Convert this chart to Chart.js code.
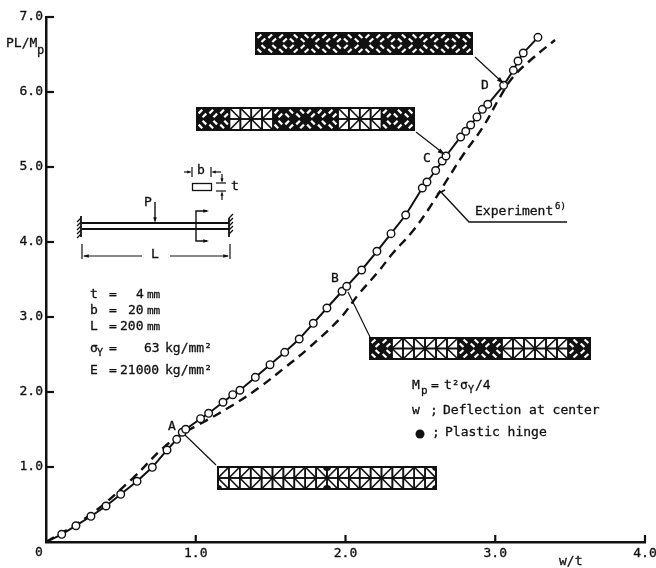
<!DOCTYPE html>
<html>
<head>
<meta charset="utf-8">
<script src="https://cdn.jsdelivr.net/npm/chart.js@4"></script>
<style>
  body { margin: 0; background: #fff; }
  canvas { display: block; }
</style>
</head>
<body>
<canvas id="beamChart" width="656" height="568"></canvas>
<script>
// Values
const calcX = [0, 0.105, 0.2, 0.3, 0.401, 0.499, 0.608, 0.71, 0.808, 0.873, 0.91, 0.933, 1.032, 1.086, 1.182, 1.247, 1.295, 1.398, 1.496, 1.594, 1.691, 1.785, 1.876, 1.977, 2.008, 2.108, 2.21, 2.304, 2.402, 2.513, 2.544, 2.602, 2.646, 2.671, 2.769, 2.803, 2.836, 2.878, 2.914, 2.95, 3.056, 3.121, 3.152, 3.187, 3.285];
const calcY = [0, 0.103, 0.217, 0.343, 0.48, 0.636, 0.809, 0.996, 1.227, 1.369, 1.463, 1.503, 1.644, 1.716, 1.863, 1.964, 2.023, 2.196, 2.364, 2.529, 2.707, 2.916, 3.12, 3.343, 3.409, 3.627, 3.876, 4.111, 4.36, 4.72, 4.8, 4.953, 5.08, 5.147, 5.4, 5.476, 5.56, 5.667, 5.769, 5.836, 6.089, 6.289, 6.413, 6.52, 6.729];
const expX = [0, 0.294, 0.581, 0.781, 0.928, 1.028, 1.249, 1.429, 1.583, 1.743, 1.963, 2.083, 2.217, 2.317, 2.444, 2.551, 2.678, 2.785, 2.918, 3.032, 3.119, 3.252, 3.399];
const expY = [0, 0.36, 0.853, 1.253, 1.467, 1.573, 1.827, 2.067, 2.307, 2.567, 2.98, 3.293, 3.6, 3.853, 4.133, 4.427, 4.827, 5.16, 5.533, 5.933, 6.2, 6.453, 6.693];
const xTickLabels = ["", "1.0", "2.0", "3.0", "4.0"];
const yTickLabels = ["", "1.0", "2.0", "3.0", "4.0", "5.0", "6.0", "7.0"];

const FONT = '"DejaVu Sans Mono", monospace';
const INK = "#111";

function toPoints(xs, ys) {
  return xs.map((x, i) => ({ x: x, y: ys[i] }));
}

function text(ctx, str, x, y, size) {
  ctx.font = (size || 13) + "px " + FONT;
  ctx.textAlign = "left";
  ctx.textBaseline = "middle";
  ctx.fillStyle = INK;
  ctx.strokeStyle = INK;
  ctx.lineWidth = 0.3;
  ctx.fillText(str, x, y);
  ctx.strokeText(str, x, y);
}

function line(ctx, pts, width) {
  ctx.lineWidth = width || 1.2;
  ctx.strokeStyle = INK;
  ctx.beginPath();
  pts.forEach((p, i) => (i ? ctx.lineTo(p[0], p[1]) : ctx.moveTo(p[0], p[1])));
  ctx.stroke();
}

function arrowHead(ctx, x, y, ang, len) {
  ctx.fillStyle = INK;
  ctx.beginPath();
  ctx.moveTo(x, y);
  ctx.lineTo(x - len * Math.cos(ang - 0.3), y - len * Math.sin(ang - 0.3));
  ctx.lineTo(x - len * Math.cos(ang + 0.3), y - len * Math.sin(ang + 0.3));
  ctx.closePath();
  ctx.fill();
}

// Truss mesh inset, spans are [from, to] columns drawn as plastic zones
function mesh(ctx, x0, y0, w, h, spans, dots) {
  const cols = 20;
  const cw = w / cols;
  const rh = h / 2;
  const isBlack = (c) => spans.some((s) => c >= s[0] && c < s[1]);
  ctx.save();
  ctx.beginPath();
  ctx.rect(x0, y0, w, h);
  ctx.clip();
  ctx.fillStyle = "#fff";
  ctx.fillRect(x0, y0, w, h);
  ctx.lineCap = "butt";
  for (let c = 0; c < cols; c++) {
    const l = x0 + c * cw;
    const r = l + cw;
    const toRight = (c % 5) >= 2.5;
    for (let row = 0; row < 2; row++) {
      const t = y0 + row * rh;
      const b = t + rh;
      // diagonal of this cell always runs towards the mid height node
      const falling = toRight ? row === 0 : row === 1;
      const dx1 = l, dy1 = falling ? t : b, dx2 = r, dy2 = falling ? b : t;
      if (isBlack(c)) {
        ctx.fillStyle = INK;
        ctx.fillRect(l - 0.5, t - 0.5, cw + 1, rh + 1);
        // what is left of each triangle is a short white slash
        const mx = (dx1 + dx2) / 2, my = (dy1 + dy2) / 2;
        const ux = (dx2 - dx1) / Math.hypot(dx2 - dx1, dy2 - dy1);
        const uy = (dy2 - dy1) / Math.hypot(dx2 - dx1, dy2 - dy1);
        ctx.strokeStyle = "#fff";
        ctx.lineWidth = 2.2;
        [-1, 1].forEach((side) => {
          const cx = mx - uy * side * 2.8, cy = my + ux * side * 2.8;
          ctx.beginPath();
          ctx.moveTo(cx - ux * 2.6, cy - uy * 2.6);
          ctx.lineTo(cx + ux * 2.6, cy + uy * 2.6);
          ctx.stroke();
        });
      } else {
        ctx.strokeStyle = INK;
        ctx.lineWidth = 1.6;
        ctx.strokeRect(l, t, cw, rh);
        ctx.beginPath();
        ctx.moveTo(dx1, dy1);
        ctx.lineTo(dx2, dy2);
        ctx.stroke();
      }
    }
  }
  ctx.fillStyle = INK;
  for (let c = 0; c <= cols; c += 5) {
    if (isBlack(Math.min(c, cols - 1)) && isBlack(Math.max(c - 1, 0))) {
      ctx.beginPath();
      ctx.arc(x0 + c * cw, y0 + h / 2, 4.2, 0, Math.PI * 2);
      ctx.fill();
    }
  }
  (dots || []).forEach((d) => {
    ctx.beginPath();
    ctx.arc(x0 + d[0] * cw, y0 + d[1] * h, 4, 0, Math.PI * 2);
    ctx.fill();
  });
  ctx.restore();
  ctx.lineWidth = 2;
  ctx.strokeStyle = INK;
  ctx.strokeRect(x0, y0, w, h);
}

const annotations = {
  id: "annotations",
  afterDraw(chart) {
    const ctx = chart.ctx;
    const xs = chart.scales.x;
    const ys = chart.scales.y;
    ctx.save();

    // inward tick marks
    xs.ticks.forEach((t) => {
      if (t.value === 0) return;
      const px = xs.getPixelForValue(t.value);
      line(ctx, [[px, ys.bottom], [px, ys.bottom - 7]], 2.2);
    });
    ys.ticks.forEach((t) => {
      if (t.value === 0) return;
      const py = ys.getPixelForValue(t.value);
      line(ctx, [[xs.left, py], [xs.left + 8, py]], 2.2);
    });

    // axis captions
    text(ctx, "0", 35, 553, 13);
    text(ctx, "w/t", 559, 562, 13);
    text(ctx, "PL/M", 6, 44, 13);
    text(ctx, "p", 37, 51, 12);

    // stage letters
    text(ctx, "A", 168, 427);
    text(ctx, "B", 331, 279);
    text(ctx, "C", 423, 159);
    text(ctx, "D", 481, 86);

    // leader lines
    line(ctx, [[185, 435], [216, 465]]);
    line(ctx, [[348, 292], [370, 337]]);
    line(ctx, [[416, 132], [443, 153]]);
    arrowHead(ctx, 445, 155, Math.atan2(21, 27), 8);
    line(ctx, [[475, 57], [502, 82]]);
    arrowHead(ctx, 504, 84, Math.atan2(25, 27), 8);
    line(ctx, [[441, 192], [469, 222], [567, 222]], 1.4);
    line(ctx, [[437, 194], [445, 190]], 1.6);
    text(ctx, "Experiment", 475, 212);
    text(ctx, "6)", 555, 207, 9);

    // mesh insets
    mesh(ctx, 218, 467, 218, 22, [], [[0, 1], [10, 0], [10, 1], [20, 1], [20, 0]]);
    mesh(ctx, 370, 338, 220, 21, [[0, 2], [8, 12], [18, 20]]);
    mesh(ctx, 197, 108, 217, 22, [[0, 3], [7, 13], [17, 20]]);
    mesh(ctx, 256, 33, 216, 21, [[0, 20]]);

    // beam sketch
    line(ctx, [[82, 223], [229, 223]], 1.8);
    line(ctx, [[82, 229], [229, 229]], 1.8);
    line(ctx, [[81, 216], [81, 237]], 1.8);
    line(ctx, [[229, 218], [229, 237]], 1.8);
    for (let i = 0; i < 5; i++) {
      line(ctx, [[81, 218 + i * 4], [77, 222 + i * 4]], 1.2);
      line(ctx, [[229, 218 + i * 4], [233, 214 + i * 4]], 1.2);
    }
    line(ctx, [[155, 202], [155, 219]], 1.4);
    arrowHead(ctx, 155, 223, Math.PI / 2, 6);
    text(ctx, "P", 144, 203);
    line(ctx, [[207, 211], [196, 211], [196, 241], [207, 241]], 1.4);
    arrowHead(ctx, 209, 211, 0, 6);
    arrowHead(ctx, 209, 241, 0, 6);
    line(ctx, [[82, 244], [82, 259]], 1.2);
    line(ctx, [[230, 244], [230, 259]], 1.2);
    line(ctx, [[84, 256], [142, 256]], 1.2);
    line(ctx, [[170, 256], [228, 256]], 1.2);
    arrowHead(ctx, 83, 256, Math.PI, 6);
    arrowHead(ctx, 229, 256, 0, 6);
    text(ctx, "L", 151, 255);

    // cross section sketch
    ctx.lineWidth = 1.3;
    ctx.strokeStyle = INK;
    ctx.strokeRect(192.5, 183.5, 19, 7);
    text(ctx, "b", 197, 171);
    line(ctx, [[192, 167], [192, 177]], 1.2);
    line(ctx, [[211, 167], [211, 177]], 1.2);
    line(ctx, [[184, 172], [189, 172]], 1.2);
    arrowHead(ctx, 192, 172, 0, 5);
    line(ctx, [[214, 172], [221, 172]], 1.2);
    arrowHead(ctx, 211, 172, Math.PI, 5);
    line(ctx, [[216, 183], [226, 183]], 1.2);
    line(ctx, [[216, 191], [226, 191]], 1.2);
    line(ctx, [[222, 174], [222, 181]], 1.2);
    arrowHead(ctx, 222, 183, Math.PI / 2, 5);
    line(ctx, [[222, 194], [222, 200]], 1.2);
    arrowHead(ctx, 222, 191, -Math.PI / 2, 5);
    text(ctx, "t", 231, 187);

    // material properties
    text(ctx, "t", 90, 295);
    text(ctx, "=", 109, 295);
    text(ctx, "4", 136, 295);
    text(ctx, "mm", 147, 295, 11);
    text(ctx, "b", 90, 311);
    text(ctx, "=", 109, 311);
    text(ctx, "20", 128, 311);
    text(ctx, "mm", 147, 311, 11);
    text(ctx, "L", 90, 327);
    text(ctx, "=", 109, 327);
    text(ctx, "200", 120, 327);
    text(ctx, "mm", 147, 327, 11);
    text(ctx, "σ", 90, 349);
    text(ctx, "Y", 97, 353, 10);
    text(ctx, "=", 109, 349);
    text(ctx, "63", 144, 349);
    text(ctx, "kg/mm²", 165, 349);
    text(ctx, "E", 90, 371);
    text(ctx, "=", 109, 371);
    text(ctx, "21000", 120, 371);
    text(ctx, "kg/mm²", 165, 371);

    // notes at lower right
    text(ctx, "M", 412, 386);
    text(ctx, "p", 421, 391, 11);
    text(ctx, "=", 431, 386);
    text(ctx, "t²", 444, 386);
    text(ctx, "σ", 460, 386);
    text(ctx, "Y", 468, 390, 10);
    text(ctx, "/4", 475, 386);
    text(ctx, "w", 412, 411);
    text(ctx, ";", 430, 411);
    text(ctx, "Deflection at center", 443, 411);
    ctx.fillStyle = INK;
    ctx.beginPath();
    ctx.arc(420, 434, 4.5, 0, Math.PI * 2);
    ctx.fill();
    text(ctx, ";", 432, 433);
    text(ctx, "Plastic hinge", 445, 433);

    ctx.restore();
  },
};

new Chart(document.getElementById("beamChart"), {
  type: "scatter",
  data: {
    datasets: [
      {
        label: "Experiment",
        data: toPoints(expX, expY),
        showLine: true,
        borderColor: INK,
        borderWidth: 2.4,
        borderDash: [9, 6],
        tension: 0.4,
        pointRadius: 0,
        order: 2,
      },
      {
        label: "Calculation",
        data: toPoints(calcX, calcY),
        showLine: true,
        borderColor: INK,
        borderWidth: 2,
        pointRadius: calcX.map((x) => (x === 0 ? 0 : 3.8)),
        pointBackgroundColor: "#fff",
        pointBorderColor: INK,
        pointBorderWidth: 1.4,
        order: 1,
      },
    ],
  },
  options: {
    responsive: false,
    animation: false,
    layout: { padding: { top: 17, right: 11, left: 0, bottom: 0 } },
    plugins: { legend: { display: false }, tooltip: { enabled: false } },
    scales: {
      x: {
        type: "linear",
        min: 0,
        max: 4,
        afterFit(scale) {
          scale.height = 26;
          scale.paddingLeft = 0;
          scale.paddingRight = 0;
        },
        border: { color: INK, width: 2.5 },
        grid: { drawOnChartArea: false, drawTicks: false },
        ticks: {
          stepSize: 1,
          padding: 4,
          maxRotation: 0,
          color: INK,
          textStrokeColor: INK,
          textStrokeWidth: 0.3,
          font: { family: FONT, size: 13 },
          callback: (v, i) => xTickLabels[i],
        },
      },
      y: {
        type: "linear",
        min: 0,
        max: 7,
        afterFit(scale) {
          scale.width = 46;
          scale.paddingTop = 0;
          scale.paddingBottom = 0;
        },
        border: { color: INK, width: 2.5 },
        grid: { drawOnChartArea: false, drawTicks: false },
        ticks: {
          stepSize: 1,
          padding: 3,
          color: INK,
          textStrokeColor: INK,
          textStrokeWidth: 0.3,
          font: { family: FONT, size: 13 },
          callback: (v, i) => yTickLabels[i],
        },
      },
    },
  },
  plugins: [annotations],
});
</script>
</body>
</html>
